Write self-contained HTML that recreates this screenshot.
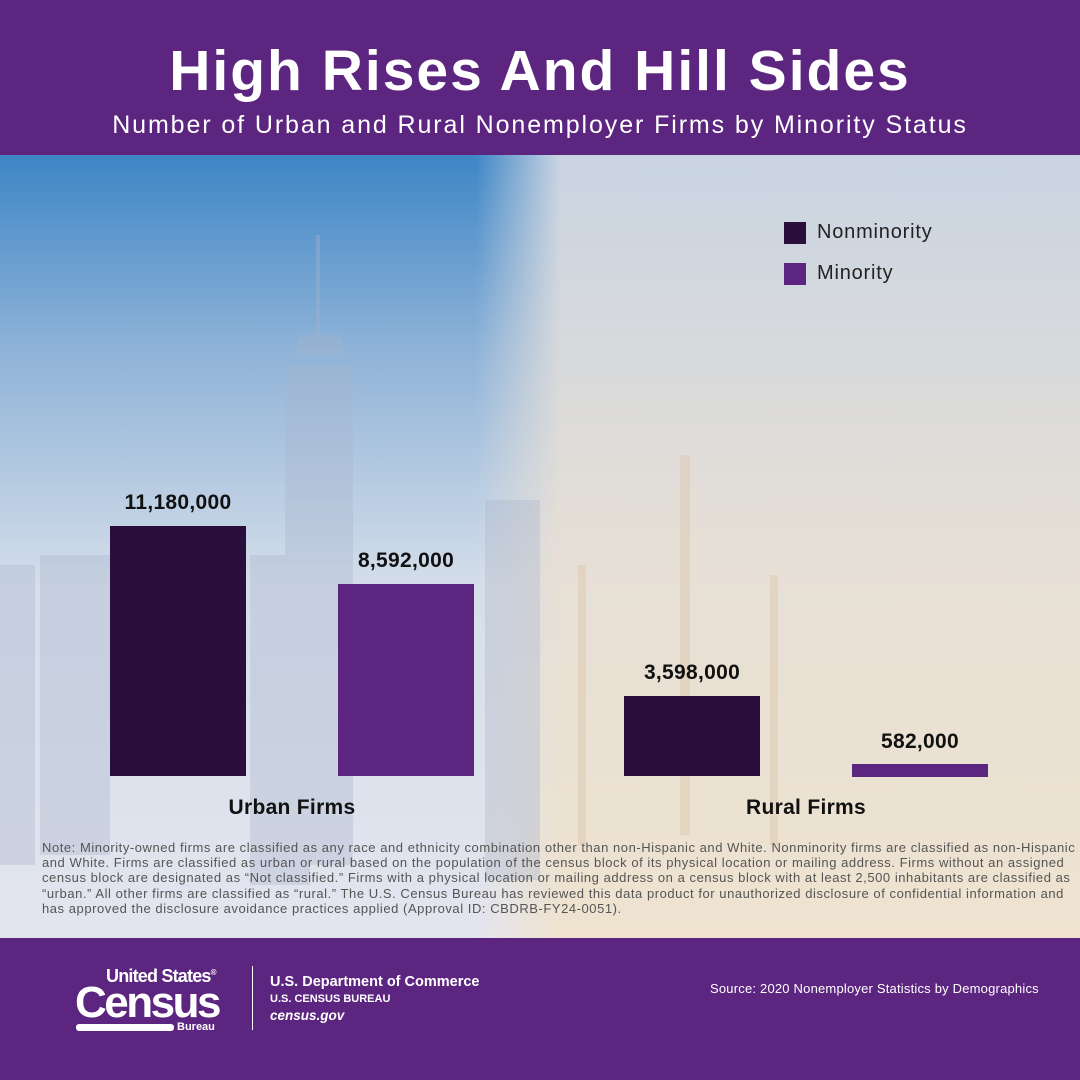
<!DOCTYPE html>
<html><head><meta charset="utf-8"><style>
*{margin:0;padding:0;box-sizing:border-box}
body{width:1080px;height:1080px;position:relative;overflow:hidden;font-family:"Liberation Sans",sans-serif;background:#5c2680}
.abs{position:absolute}
.hdr{left:0;top:0;width:1080px;height:155px;background:#5c2680;color:#fff;text-align:center}
.bar{position:absolute;width:136px}
.nm{background:#2a0f3d}.mi{background:#5c2680}
.val{position:absolute;width:200px;text-align:center;font-weight:bold;font-size:21px;color:#111;letter-spacing:0.3px}
.note div{white-space:nowrap}
</style></head><body>
<div class="abs hdr">
<div class="abs" style="left:0;width:1080px;top:38px;font-size:57px;font-weight:bold;letter-spacing:2px">High Rises And Hill Sides</div>
<div class="abs" style="left:0;width:1080px;top:111px;font-size:25px;letter-spacing:1.9px">Number of Urban and Rural Nonemployer Firms by Minority Status</div>
</div>
<div class="abs" style="left:0;top:155px;width:1080px;height:783px;background:linear-gradient(180deg,#c9d4e2 0%,#e6dfd6 50%,#efe3d0 100%)"></div>
<div class="abs" style="left:0;top:155px;width:560px;height:783px;background:linear-gradient(180deg,#3e86c6 0%,#8fb3d8 25%,#d5deea 55%,#e3e5ee 100%);-webkit-mask-image:linear-gradient(90deg,#000 85%,transparent 100%);mask-image:linear-gradient(90deg,#000 85%,transparent 100%)"></div>
<svg class="abs" style="left:0;top:155px" width="1080" height="783">
<g fill="#a9b4cc" opacity="0.35">
<rect x="285" y="210" width="68" height="500"/><polygon points="295,200 345,200 340,180 300,180"/><rect x="316" y="80" width="4" height="110"/>
<rect x="40" y="400" width="70" height="300"/><rect x="0" y="410" width="35" height="300"/><rect x="250" y="400" width="60" height="330"/><rect x="485" y="345" width="55" height="380"/>
</g>
<g fill="#d9c3a8" opacity="0.4">
<rect x="680" y="300" width="10" height="380"/><rect x="578" y="410" width="8" height="280"/><rect x="770" y="420" width="8" height="270"/>
</g>
</svg>
<div class="bar nm" style="left:110px;top:526px;height:250px"></div>
<div class="bar mi" style="left:338px;top:584px;height:192px"></div>
<div class="bar nm" style="left:624px;top:696px;height:80px"></div>
<div class="bar mi" style="left:852px;top:764px;height:13px"></div>
<div class="val" style="left:78px;top:491px">11,180,000</div>
<div class="val" style="left:306px;top:549px">8,592,000</div>
<div class="val" style="left:592px;top:661px">3,598,000</div>
<div class="val" style="left:820px;top:730px">582,000</div>
<div class="abs" style="left:192px;width:200px;top:796px;text-align:center;font-weight:bold;font-size:21px;color:#111;letter-spacing:0.3px">Urban Firms</div>
<div class="abs" style="left:706px;width:200px;top:796px;text-align:center;font-weight:bold;font-size:21px;color:#111;letter-spacing:0.3px">Rural Firms</div>
<div class="abs nm" style="left:784px;top:222px;width:22px;height:22px"></div>
<div class="abs mi" style="left:784px;top:263px;width:22px;height:22px"></div>
<div class="abs" style="left:817px;top:221px;font-size:20px;color:#222;letter-spacing:0.8px">Nonminority</div>
<div class="abs" style="left:817px;top:262px;font-size:20px;color:#222;letter-spacing:0.8px">Minority</div>
<div class="abs note" style="left:42px;top:840px;font-size:13px;line-height:15.2px;color:#555;letter-spacing:0.55px">
<div>Note: Minority-owned firms are classified as any race and ethnicity combination other than non-Hispanic and White. Nonminority firms are classified as non-Hispanic</div>
<div>and White. Firms are classified as urban or rural based on the population of the census block of its physical location or mailing address. Firms without an assigned</div>
<div>census block are designated as “Not classified.” Firms with a physical location or mailing address on a census block with at least 2,500 inhabitants are classified as</div>
<div>“urban.” All other firms are classified as “rural.” The U.S. Census Bureau has reviewed this data product for unauthorized disclosure of confidential information and</div>
<div>has approved the disclosure avoidance practices applied (Approval ID: CBDRB-FY24-0051).</div>
</div>
<div class="abs" style="left:0;top:938px;width:1080px;height:142px;background:#5c2680;color:#fff">
<div class="abs" style="left:106px;top:28px;font-size:18px;font-weight:bold;letter-spacing:-0.8px">United States<sup style="font-size:8px">®</sup></div>
<div class="abs" style="left:75px;top:40px;font-size:44px;font-weight:bold;letter-spacing:-2.5px">Census</div>
<div class="abs" style="left:76px;top:86px;width:98px;height:7px;background:#fff;border-radius:3px"></div>
<div class="abs" style="left:177px;top:83px;font-size:11px;font-weight:bold">Bureau</div>
<div class="abs" style="left:252px;top:28px;width:1px;height:64px;background:#fff"></div>
<div class="abs" style="left:270px;top:36px;font-size:14.5px;font-weight:bold">U.S. Department of Commerce</div>
<div class="abs" style="left:270px;top:55px;font-size:11px;font-weight:bold">U.S. CENSUS BUREAU</div>
<div class="abs" style="left:270px;top:70px;font-size:13.5px;font-weight:bold;font-style:italic">census.gov</div>
<div class="abs" style="left:710px;top:43px;font-size:13px;letter-spacing:0.2px">Source: 2020 Nonemployer Statistics by Demographics</div>
</div>
</body></html>
